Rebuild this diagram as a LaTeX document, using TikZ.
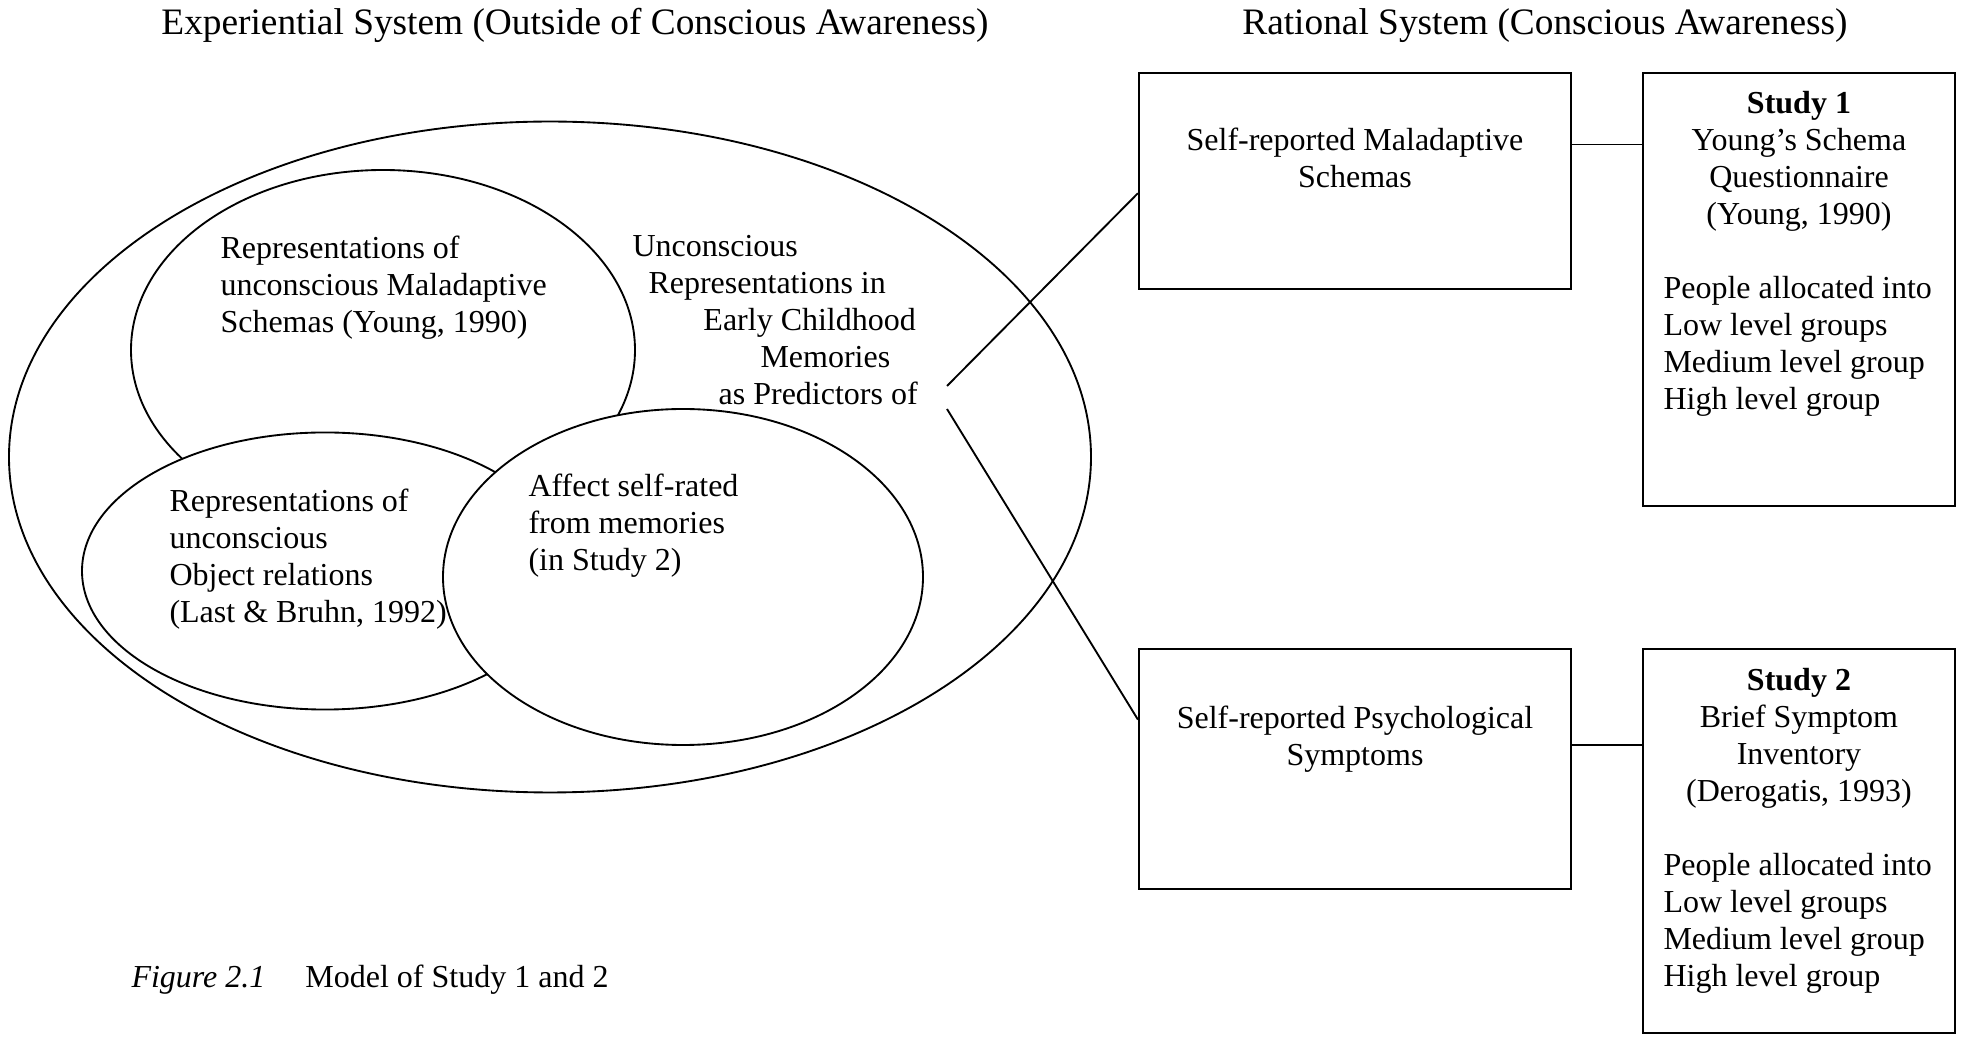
\documentclass[tikz,border=0pt]{standalone}
\usepackage{fontspec}
\setmainfont{Liberation Serif}
\usetikzlibrary{shapes.geometric,calc}

\tikzset{
  oval/.style={draw, ellipse, fill=white, line width=0.7pt, inner sep=0pt},
  boxnode/.style={draw, rectangle, line width=0.8pt, inner sep=0pt},
  txt/.style={inner sep=0pt, font=\fontsize{12}{13.9}\selectfont},
  heading/.style={inner sep=0pt, font=\fontsize{14}{16}\selectfont, anchor=base},
  link/.style={line width=0.7pt},
}

\begin{document}
\begin{tikzpicture}[x=0.375pt, y=-0.375pt]
  \useasboundingbox (0,0) rectangle (1966,1040);

  % headings
  \node[heading] (exphead) at (575,35) {Experiential System (Outside of Conscious Awareness)};
  \node[heading] (rathead) at (1545,35) {Rational System (Conscious Awareness)};

  % experiential side - nested ovals
  \node[oval, minimum width=405.75pt, minimum height=251.6pt] (outer) at (550,457) {};
  \node[oval, minimum width=189pt, minimum height=135pt] (schemaoval) at (383,350) {};
  \node[oval, minimum width=182.25pt, minimum height=103.9pt] (objoval) at (325,571) {};
  \node[oval, minimum width=180pt, minimum height=126pt] (affectoval) at (683,577) {};

  % (base of a multi-line node = baseline of its last line)
  \node[txt, align=left, anchor=base west] (schematxt) at (220,333)
    {Representations of\\unconscious Maladaptive\\Schemas (Young, 1990)};
  \node[txt, align=left, anchor=base west] (objtxt) at (169,623)
    {Representations of\\unconscious\\Object relations\\(Last \& Bruhn, 1992)};
  \node[txt, align=left, anchor=base west] (affecttxt) at (528,571)
    {Affect self-rated\\from memories\\(in Study 2)};
  \node[txt, align=left, anchor=base west] (predtxt) at (632,405)
    {Unconscious\\\hspace*{6pt}Representations in\\\hspace*{26.6pt}Early Childhood\\
     \hspace*{48pt}Memories\\\hspace*{32.3pt}as Predictors of};

  % rational side - boxes
  \node[boxnode, minimum width=162pt, minimum height=81pt] (msbox) at (1355,181) {};
  \node[boxnode, minimum width=162pt, minimum height=90pt] (psbox) at (1355,769) {};
  \node[boxnode, minimum width=117pt, minimum height=162.4pt] (study1) at (1799,289.5) {};
  \node[boxnode, minimum width=117pt, minimum height=144pt] (study2) at (1799,841) {};

  \node[txt, align=center, anchor=base] (mstxt) at (1355,188) {Self-reported Maladaptive\\Schemas};
  \node[txt, align=center, anchor=base] (pstxt) at (1355,766) {Self-reported Psychological\\Symptoms};

  \node[txt, align=center, anchor=base] (study1head) at (1799,225)
    {\textbf{Study 1}\\Young’s Schema\\Questionnaire\\(Young, 1990)};
  \node[txt, align=left, anchor=base west] (study1list) at (1663,410)
    {People allocated into\\Low level groups\\Medium level group\\High level group};
  \node[txt, align=center, anchor=base] (study2head) at (1799,802)
    {\textbf{Study 2}\\Brief Symptom\\Inventory\\(Derogatis, 1993)};
  \node[txt, align=left, anchor=base west] (study2list) at (1663,987)
    {People allocated into\\Low level groups\\Medium level group\\High level group};

  % predictor lines
  \coordinate (predA) at (947,386);
  \coordinate (predB) at (947,409);
  \draw[link] (predA) -- ($(msbox.north west)!0.556!(msbox.south west)$);
  \draw[link] (predB) -- ($(psbox.north west)!0.296!(psbox.south west)$);

  % box to measure
  \coordinate (msmid) at ($(msbox.north east)!0.333!(msbox.south east)$);
  \coordinate (psmid) at ($(psbox.north east)!0.4!(psbox.south east)$);
  \draw[link] (msmid) -- (msmid -| study1.west);
  \draw[link] (psmid) -- (psmid -| study2.west);

  % caption
  \node[txt, anchor=base west] (figcap) at (131,988)
    {\textit{Figure 2.1}\hspace*{15pt}Model of Study 1 and 2};
\end{tikzpicture}
\end{document}
